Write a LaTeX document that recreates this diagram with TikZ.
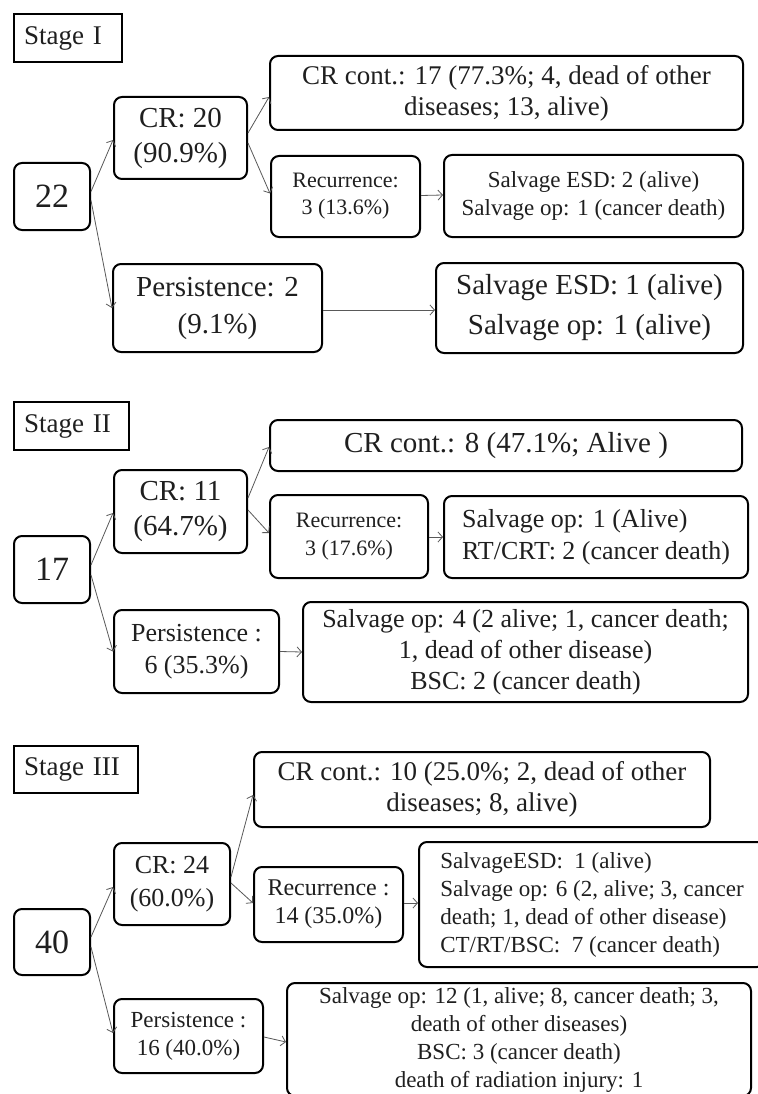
\documentclass[tikz,border=0pt]{standalone}
\usepackage{fontspec}
\setmainfont{Liberation Serif}
\usetikzlibrary{arrows.meta}
\newcommand\fsz[2]{\fontsize{#1}{#2}\selectfont}
\tikzset{
  rbox/.style={draw=black, line width=2pt, rounded corners=8pt, inner sep=0pt, align=center, text=black!88},
  lbox/.style={draw=black, line width=2pt, rounded corners=8pt, inner sep=0pt, align=left, text=black!88},
  stagebox/.style={draw=black, line width=2.4pt, inner ysep=0pt, inner xsep=10pt, align=left, text=black!88, font=\fsz{27}{32}},
  conn/.style={draw=black!65, line width=0.8pt, -{Straight Barb[length=4.5pt,width=10pt]}},
}
\begin{document}
\begin{tikzpicture}[x=1pt,y=-1pt]
\useasboundingbox (0,0) rectangle (757,1094);
\fill[white] (0,0) rectangle (757,1094);

% ---------------- Stage I ----------------
\node[stagebox, text width=88pt, minimum height=48pt] (s1) at (68,38) {Stage I};
\node[rbox, minimum width=76pt, minimum height=67pt, font=\fsz{34}{40}] (n22) at (52,196.5) {22};
\node[rbox, minimum width=133pt, minimum height=82pt, font=\fsz{29}{35}] (cr20) at (180.5,138) {CR: 20\\(90.9\%)};
\node[rbox, minimum width=473pt, minimum height=74pt, font=\fsz{27}{31}] (crc17) at (506.5,93) {CR cont.: 17 (77.3\%; 4, dead of other\\diseases; 13, alive)};
\node[rbox, minimum width=149pt, minimum height=81pt, font=\fsz{22}{27}] (rec1) at (345.5,196.5) {Recurrence:\\3 (13.6\%)};
\node[rbox, minimum width=299pt, minimum height=82pt, font=\fsz{23}{28}] (sal1) at (593.5,196) {Salvage ESD: 2 (alive)\\Salvage op: 1 (cancer death)};
\node[rbox, minimum width=209pt, minimum height=88pt, font=\fsz{29}{37}] (per1) at (217.5,308) {Persistence: 2\\(9.1\%)};
\node[rbox, minimum width=307pt, minimum height=90pt, font=\fsz{29}{40}] (sal1b) at (589.5,308) {Salvage ESD: 1 (alive)\\Salvage op: 1 (alive)};

\draw[conn] ([yshift=5pt]n22.east) -- ([yshift=-2pt]cr20.west);
\draw[conn] ([yshift=-4pt]n22.east) -- (per1.west);
\draw[conn] ([yshift=5pt]cr20.east) -- ([yshift=-4pt]crc17.west);
\draw[conn] ([yshift=-5pt]cr20.east) -- ([yshift=3pt]rec1.west);
\draw[conn] ([yshift=1pt]rec1.east) -- ([yshift=1pt]sal1.west);
\draw[conn] ([yshift=-2pt]per1.east) -- ([yshift=-2pt]sal1b.west);

% ---------------- Stage II ----------------
\node[stagebox, text width=95pt, minimum height=48pt] (s2) at (71.5,426) {Stage II};
\node[rbox, minimum width=76pt, minimum height=67pt, font=\fsz{34}{40}] (n17) at (52,569.5) {17};
\node[rbox, minimum width=133pt, minimum height=83pt, font=\fsz{29}{35}] (cr11) at (180.5,511.5) {CR: 11\\(64.7\%)};
\node[rbox, minimum width=472pt, minimum height=51pt, font=\fsz{29}{34}] (crc8) at (506,445.5) {CR cont.: 8 (47.1\%; Alive )};
\node[rbox, minimum width=158pt, minimum height=83pt, font=\fsz{22}{28}] (rec2) at (349,536.5) {Recurrence:\\3 (17.6\%)};
\node[lbox, minimum width=304pt, minimum height=82pt, font=\fsz{26}{32}] (sal2) at (596,537) {Salvage op: 1 (Alive)\\RT/CRT: 2 (cancer death)};
\node[rbox, minimum width=165pt, minimum height=83pt, font=\fsz{26}{32}] (per2) at (196.5,651.5) {Persistence :\\6 (35.3\%)};
\node[rbox, minimum width=445pt, minimum height=100pt, font=\fsz{26}{31}] (sal2b) at (525.5,652) {Salvage op: 4 (2 alive; 1, cancer death;\\1, dead of other disease)\\BSC: 2 (cancer death)};

\draw[conn] ([yshift=4.5pt]n17.east) -- ([yshift=-1.5pt]cr11.west);
\draw[conn] ([yshift=-5.5pt]n17.east) -- (per2.west);
\draw[conn] ([yshift=13.5pt]cr11.east) -- ([yshift=-1.5pt]crc8.west);
\draw[conn] ([yshift=1.5pt]cr11.east) -- ([yshift=3.5pt]rec2.west);
\draw[conn] ([yshift=-0.5pt]rec2.east) -- (sal2.west);
\draw[conn] (per2.east) -- (sal2b.west);

% ---------------- Stage III ----------------
\node[stagebox, text width=104pt, minimum height=47pt] (s3) at (76,769.5) {Stage III};
\node[rbox, minimum width=76pt, minimum height=66pt, font=\fsz{34}{40}] (n40) at (52,942) {40};
\node[rbox, minimum width=116pt, minimum height=82pt, font=\fsz{26}{33}] (cr24) at (172,884) {CR: 24\\(60.0\%)};
\node[rbox, minimum width=456pt, minimum height=75pt, font=\fsz{27}{31}] (crc10) at (482,789.5) {CR cont.: 10 (25.0\%; 2, dead of other\\diseases; 8, alive)};
\node[rbox, minimum width=149pt, minimum height=75pt, font=\fsz{24}{28}] (rec3) at (328.5,904.5) {Recurrence :\\14 (35.0\%)};
\node[lbox, minimum width=346pt, minimum height=125pt, font=\fsz{23}{28}] (sal3) at (592,904.5) {SalvageESD:\ \ 1 (alive)\\Salvage op: 6 (2, alive; 3, cancer\\death; 1, dead of other disease)\\CT/RT/BSC:\ \ 7 (cancer death)};
\node[rbox, minimum width=149pt, minimum height=74pt, font=\fsz{23}{28}] (per3) at (188.5,1036) {Persistence :\\16 (40.0\%)};
\node[rbox, minimum width=464pt, minimum height=113pt, font=\fsz{23}{28}] (sal3b) at (519,1039.5) {Salvage op: 12 (1, alive; 8, cancer death; 3,\\death of other diseases)\\BSC: 3 (cancer death)\\death of radiation injury: 1};

\draw[conn] ([yshift=5pt]n40.east) -- ([yshift=-3pt]cr24.west);
\draw[conn] ([yshift=-5pt]n40.east) -- ([yshift=3pt]per3.west);
\draw[conn] ([yshift=7pt]cr24.east) -- ([yshift=-5.5pt]crc10.west);
\draw[conn] ([yshift=1pt]cr24.east) -- ([yshift=1.5pt]rec3.west);
\draw[conn] ([yshift=1.5pt]rec3.east) -- ([yshift=1.5pt]sal3.west);
\draw[conn] ([yshift=-1pt]per3.east) -- ([yshift=-2.5pt]sal3b.west);
\end{tikzpicture}
\end{document}
